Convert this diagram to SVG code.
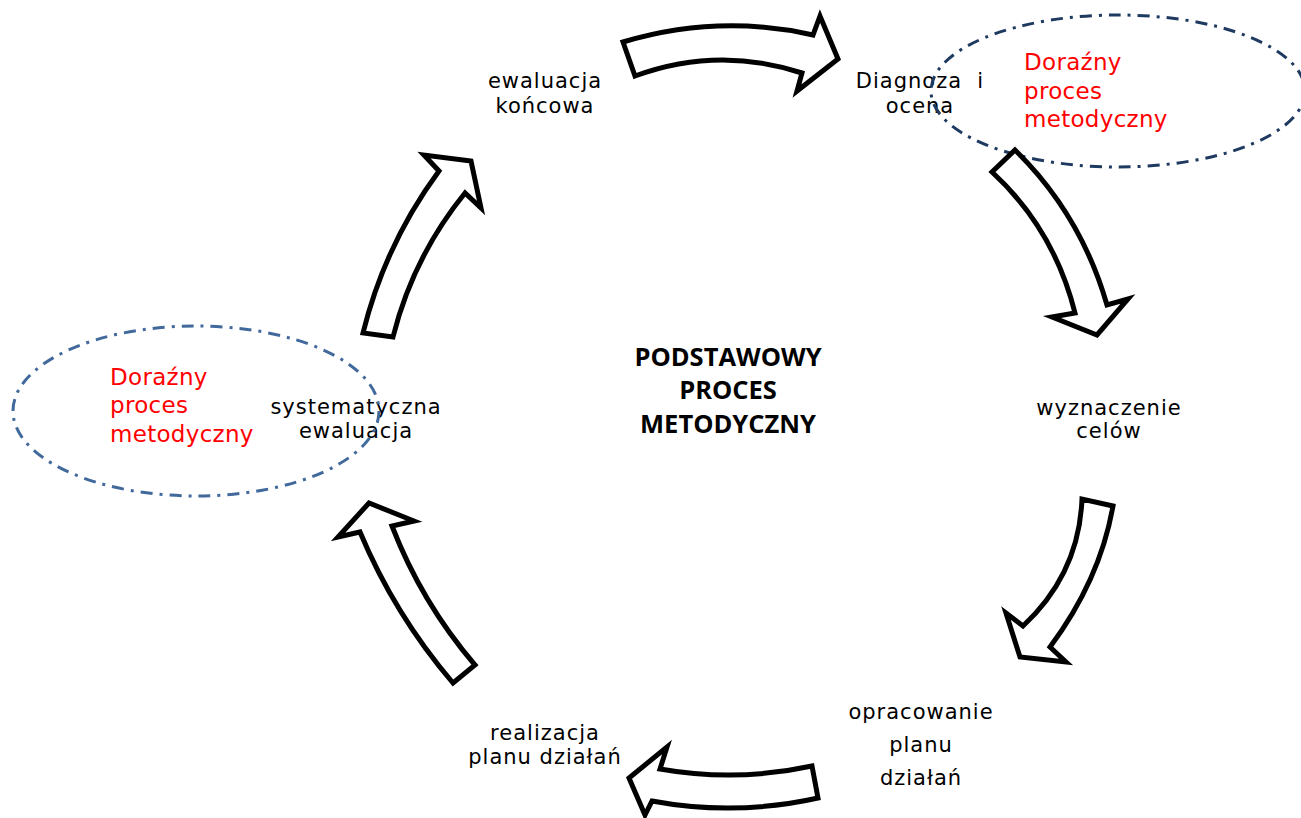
<svg xmlns="http://www.w3.org/2000/svg" width="1301" height="818" viewBox="0 0 1301 818">
  <style>
    .lbl { font-family: "DejaVu Sans", Verdana, sans-serif; font-size: 21px; letter-spacing: 1px; fill: #000; text-anchor: middle; }
    .red { font-family: "DejaVu Sans", Verdana, sans-serif; font-size: 23px; letter-spacing: 0.3px; fill: #ff0000; }
    .core { font-family: "Open Sans", "DejaVu Sans", sans-serif; font-size: 25.5px; font-weight: 700; fill: #000; text-anchor: middle; }
    .loop { fill: none; stroke-width: 3; stroke-dasharray: 12 7 3 7; }
    .arrow { fill: #fff; stroke: #000; stroke-width: 5; stroke-linejoin: miter; }
  </style>
  <rect width="1301" height="818" fill="#fff"/>

  <!-- centre title -->
  <g id="center">
    <text class="core" x="728" y="366">PODSTAWOWY</text>
    <text class="core" x="728" y="399">PROCES</text>
    <text class="core" x="728" y="433">METODYCZNY</text>
  </g>

  <!-- process steps -->
  <g id="step-ewaluacja-koncowa">
    <text class="lbl" x="545" y="88">ewaluacja</text>
    <text class="lbl" x="545" y="113">końcowa</text>
  </g>
  <g id="step-diagnoza">
    <text class="lbl" x="920" y="88" xml:space="preserve">Diagnoza  i</text>
    <text class="lbl" x="920" y="113">ocena</text>
  </g>
  <g id="step-cele">
    <text class="lbl" x="1109" y="415">wyznaczenie</text>
    <text class="lbl" x="1109" y="438">celów</text>
  </g>
  <g id="step-opracowanie">
    <text class="lbl" x="921" y="719">opracowanie</text>
    <text class="lbl" x="921" y="752">planu</text>
    <text class="lbl" x="921" y="785">działań</text>
  </g>
  <g id="step-realizacja">
    <text class="lbl" x="545" y="740">realizacja</text>
    <text class="lbl" x="545" y="764">planu działań</text>
  </g>
  <g id="step-ewaluacja-systematyczna">
    <text class="lbl" x="356" y="414">systematyczna</text>
    <text class="lbl" x="356" y="438">ewaluacja</text>
  </g>

  <!-- ad-hoc sub-processes -->
  <g id="adhoc-top">
    <text class="red" x="1024" y="70">Doraźny</text>
    <text class="red" x="1024" y="99">proces</text>
    <text class="red" x="1024" y="127">metodyczny</text>
    <ellipse class="loop" stroke="#1f3a60" cx="1118" cy="91" rx="187" ry="76"/>
  </g>
  <g id="adhoc-left">
    <text class="red" x="110" y="385">Doraźny</text>
    <text class="red" x="110" y="413">proces</text>
    <text class="red" x="110" y="442">metodyczny</text>
    <ellipse class="loop" stroke="#41699c" cx="196" cy="411" rx="183" ry="85"/>
  </g>

  <!-- cycle arrows -->
  <g id="connectors">
    <path class="arrow" d="M623,42 Q718,13.5 813,35 L820,16 L838,59 L797,91 L802,73 Q718,45.5 635,76 Z"/>
    <path class="arrow" d="M1015,150 Q1081,214.5 1107,305 L1128,299 L1097,335 L1052,317 L1075,313 Q1054,229 992,172 Z"/>
    <path class="arrow" d="M1113,506 Q1100,580 1050,647 L1066,662 L1020,657 L1006,613 L1023,626 Q1079,574 1082,499 Z"/>
    <path class="arrow" d="M812,766 Q736,782.5 660,769 L667,747 L629,778 L645,815 L652,801 Q735,816.5 818,798 Z"/>
    <path class="arrow" d="M453,683 Q394.5,614.5 360,532 L338,537 L369,503 L414,521 L392,526 Q421.5,602.5 475,665 Z"/>
    <path class="arrow" d="M363,333 Q385,244 439,171 L424,155 L471,161 L481,208 L465,193 Q413,257 393,337 Z"/>
  </g>
</svg>
